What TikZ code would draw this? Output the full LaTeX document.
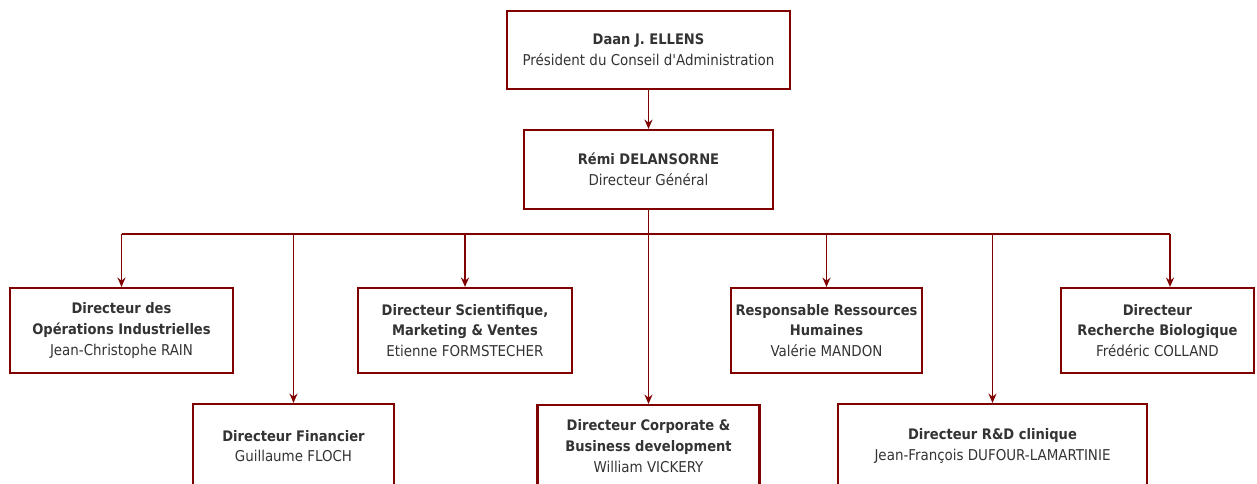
\documentclass[tikz,border=0pt]{standalone}
\usepackage{fontspec}
\setmainfont{DejaVu Sans Condensed}
\usetikzlibrary{positioning, arrows.meta}
\definecolor{boxred}{RGB}{128,0,0}
\definecolor{txtgray}{RGB}{51,51,51}
\newcommand{\hd}[1]{{\fontsize{10.9}{15.5}\selectfont\bfseries #1}}

\begin{document}
\begin{tikzpicture}[x=0.75pt, y=-0.75pt, >={Stealth[length=7pt, width=6pt]},
    orgbox/.style={draw=boxred, line width=1.6pt, rectangle, align=center, text=txtgray, inner sep=0pt,
        font=\fontsize{11.2}{15.5}\selectfont},
    link/.style={draw=boxred, line width=1.2pt}] % px-like units, y downwards
    \clip (0,0) rectangle (1257,484);

    % President
    \node[orgbox, minimum width=212.25pt, minimum height=58.5pt] (pres) at (648.5,50) {\hd{Daan J. ELLENS}\\Président du Conseil d\textquotesingle Administration};

    % General manager
    \node[orgbox, minimum width=186.75pt, minimum height=59.25pt] (dg) at (648.5,169.5) {\hd{Rémi DELANSORNE}\\Directeur Général};

    % Upper row
    \node[orgbox, minimum width=167.25pt, minimum height=63.75pt] (ops) at (121.5,330.5) {\hd{Directeur des}\\\hd{Opérations Industrielles}\\Jean-Christophe RAIN};
    \node[orgbox, minimum width=160.5pt, minimum height=63.75pt] (sci) at (465,330.5) {\hd{Directeur Scientifique,}\\\hd{Marketing \& Ventes}\\Etienne FORMSTECHER};
    \node[orgbox, minimum width=143.25pt, minimum height=63.75pt] (rh) at (826.5,330.5) {\hd{Responsable Ressources}\\\hd{Humaines}\\Valérie MANDON};
    \node[orgbox, minimum width=144.75pt, minimum height=63.75pt] (bio) at (1157.5,330.5) {\hd{Directeur}\\\hd{Recherche Biologique}\\Frédéric COLLAND};

    % Lower row
    \node[orgbox, minimum width=150.75pt, minimum height=63pt] (fin) at (293.5,446) {\hd{Directeur Financier}\\Guillaume FLOCH};
    \node[orgbox, minimum width=166.5pt, minimum height=61.5pt] (corp) at (648.5,446) {\hd{Directeur Corporate \&}\\\hd{Business development}\\William VICKERY};
    \node[orgbox, minimum width=231.75pt, minimum height=63pt] (rd) at (992.5,446) {\hd{Directeur R\&D clinique}\\Jean-François DUFOUR-LAMARTINIE};

    % Bar
    \coordinate (bar) at (0,234);
    \coordinate (barR) at (1170,234);

    % Arrows
    \draw[link, ->] (pres) -- (dg);
    \draw[link, ->] (dg) -- (corp);
    \draw[link] (ops.north |- bar) -- (barR);
    \draw[link, ->] (ops.north |- bar) -- (ops.north);
    \draw[link, ->] (fin.north |- bar) -- (fin.north);
    \draw[link, ->] (sci.north |- bar) -- (sci.north);
    \draw[link, ->] (rh.north |- bar) -- (rh.north);
    \draw[link, ->] (rd.north |- bar) -- (rd.north);
    \draw[link, ->] (barR) -- (barR |- bio.north);
\end{tikzpicture}
\end{document}
